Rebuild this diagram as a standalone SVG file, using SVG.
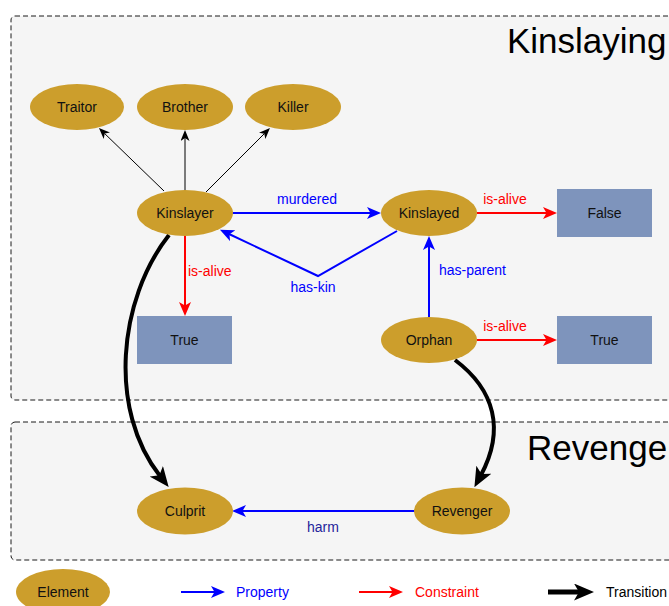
<svg xmlns="http://www.w3.org/2000/svg" width="669" height="606" viewBox="0 0 669 606">
<style>
text{font-family:"Liberation Sans",Arial,sans-serif;font-size:14px}
.panel{fill:#f5f5f5;stroke:#1a1a1a;stroke-width:1;stroke-dasharray:5 3}
.title{font-size:35px;fill:#000}
.el{fill:#cc9e2c}
.val{fill:#7e94bc}
.lbl{fill:#111;text-anchor:middle}
.prop{stroke:#0000ff;stroke-width:2;fill:none;marker-end:url(#aBlue)}
.cons{stroke:#ff0000;stroke-width:2;fill:none;marker-end:url(#aRed)}
.thin{stroke:#000;stroke-width:1;fill:none;marker-end:url(#aThin)}
.trans{stroke:#000;stroke-width:4;fill:none;marker-end:url(#aThick)}
.tp{fill:#0000ff}
.tc{fill:#ff0000}
.mid{text-anchor:middle}
</style>
<defs>
<marker id="aBlue" viewBox="0 0 14 12" refX="4" refY="6" markerWidth="14" markerHeight="12" markerUnits="userSpaceOnUse" orient="auto"><path d="M0,0 L14,6 L0,12 L3.5,6 Z" fill="#0000ff"/></marker>
<marker id="aRed" viewBox="0 0 14 12" refX="4" refY="6" markerWidth="14" markerHeight="12" markerUnits="userSpaceOnUse" orient="auto"><path d="M0,0 L14,6 L0,12 L3.5,6 Z" fill="#ff0000"/></marker>
<marker id="aThin" viewBox="0 0 11 9" refX="3" refY="4.5" markerWidth="11" markerHeight="9" markerUnits="userSpaceOnUse" orient="auto"><path d="M0,0 L11,4.5 L0,9 L3,4.5 Z" fill="#000"/></marker>
<marker id="aThick" viewBox="0 0 20 17" refX="6" refY="8.5" markerWidth="20" markerHeight="17" markerUnits="userSpaceOnUse" orient="auto"><path d="M0,0 L20,8.5 L0,17 L5,8.5 Z" fill="#000"/></marker>
</defs>

<g id="panel-kinslaying">
<rect class="panel" x="11" y="16" width="680" height="384" rx="4"/>
<text class="title" x="507" y="53">Kinslaying</text>
</g>
<g id="panel-revenge">
<rect class="panel" x="11" y="422" width="680" height="138" rx="4"/>
<text class="title" x="527" y="460">Revenge</text>
</g>

<g id="connectors">
<path class="thin" d="M164,191 L104.7,133.6"/>
<path class="thin" d="M185,190 L185,138"/>
<path class="thin" d="M206,192 L264.3,133.7"/>
<path class="prop" d="M232,213 L371,213"/>
<text class="tp mid" x="307" y="204">murdered</text>
<path class="prop" d="M397,231 L318,276 L229,234"/>
<text class="tp mid" x="313" y="292">has-kin</text>
<path class="cons" d="M185,236 L185,306"/>
<text class="tc" x="188" y="276">is-alive</text>
<path class="cons" d="M477,213 L547,213"/>
<text class="tc mid" x="505" y="204">is-alive</text>
<path class="prop" d="M429,318 L429,246"/>
<text class="tp" x="439" y="275">has-parent</text>
<path class="cons" d="M477,340 L547,340"/>
<text class="tc mid" x="505" y="331">is-alive</text>
<path class="trans" d="M169,235 C118,300 108,410 160,476"/>
<path class="trans" d="M455,360 C495,390 505,430 481,475"/>
<path class="prop" d="M415,511 L242,511"/>
<text class="mid" x="323" y="532" fill="#24249b">harm</text>
</g>

<g id="node-traitor"><ellipse class="el" cx="77" cy="107" rx="47" ry="23"/><text class="lbl" x="77" y="112">Traitor</text></g>
<g id="node-brother"><ellipse class="el" cx="185" cy="107" rx="48" ry="23"/><text class="lbl" x="185" y="112">Brother</text></g>
<g id="node-killer"><ellipse class="el" cx="293" cy="107" rx="48" ry="23"/><text class="lbl" x="293" y="112">Killer</text></g>
<g id="node-kinslayer"><ellipse class="el" cx="185" cy="213" rx="48" ry="23"/><text class="lbl" x="185" y="218">Kinslayer</text></g>
<g id="node-kinslayed"><ellipse class="el" cx="429" cy="213" rx="48" ry="23"/><text class="lbl" x="429" y="218">Kinslayed</text></g>
<g id="node-false"><rect class="val" x="557" y="189" width="95" height="48"/><text class="lbl" x="604.5" y="218">False</text></g>
<g id="node-true1"><rect class="val" x="137" y="316" width="95" height="48"/><text class="lbl" x="184.5" y="345">True</text></g>
<g id="node-orphan"><ellipse class="el" cx="429" cy="340" rx="48" ry="23"/><text class="lbl" x="429" y="345">Orphan</text></g>
<g id="node-true2"><rect class="val" x="557" y="316" width="95" height="48"/><text class="lbl" x="604.5" y="345">True</text></g>
<g id="node-culprit"><ellipse class="el" cx="185" cy="511" rx="48" ry="23.5"/><text class="lbl" x="185" y="516">Culprit</text></g>
<g id="node-revenger"><ellipse class="el" cx="462" cy="511" rx="48" ry="23.5"/><text class="lbl" x="462" y="516">Revenger</text></g>

<g id="legend">
<ellipse class="el" cx="63" cy="592" rx="47" ry="23"/><text class="lbl" x="63" y="597">Element</text>
<path class="prop" d="M181,592 L215,592"/><text class="tp" x="236" y="597">Property</text>
<path class="cons" d="M359,592 L393,592"/><text class="tc" x="415" y="597">Constraint</text>
<path class="trans" d="M548,592 L580,592" style="stroke-width:5"/><text x="606" y="597" fill="#000">Transition</text>
</g>
</svg>
